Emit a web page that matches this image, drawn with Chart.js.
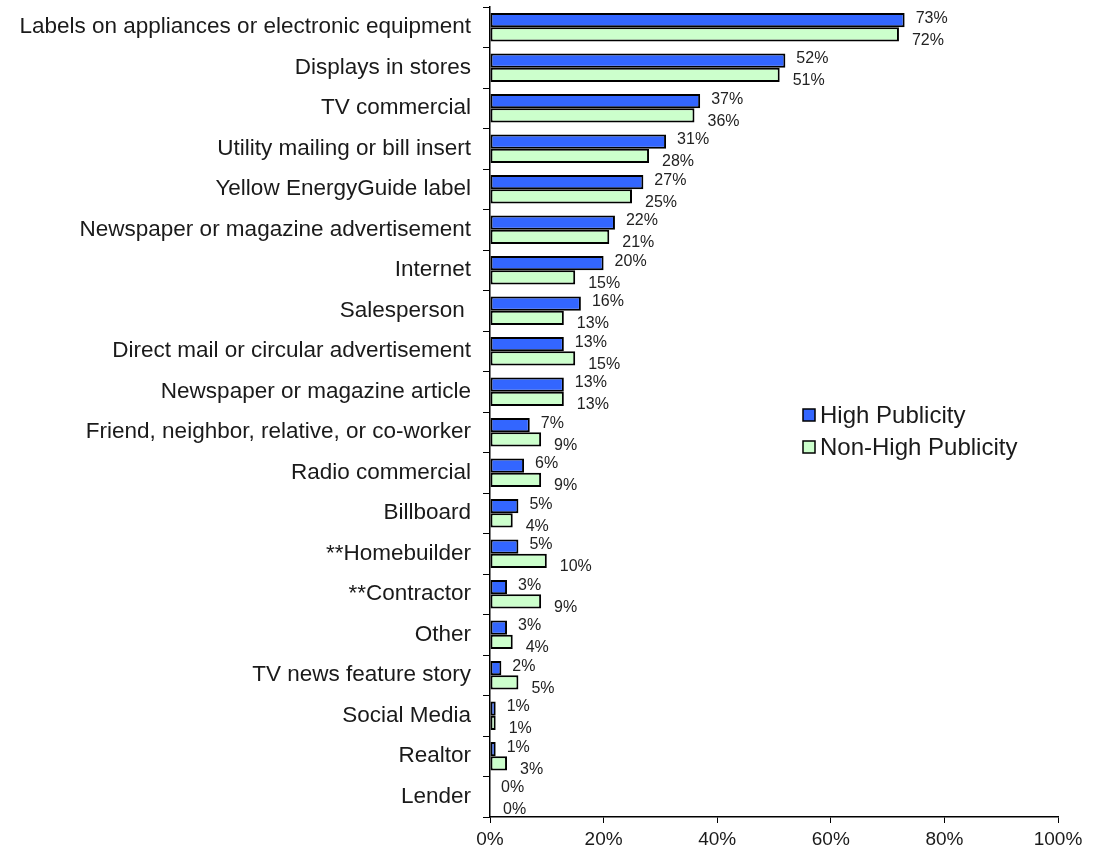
<!DOCTYPE html>
<html>
<head>
<meta charset="utf-8">
<script src="https://cdn.jsdelivr.net/npm/chart.js@4/dist/chart.umd.min.js"></script>
<style>
  html, body { margin: 0; padding: 0; background: #fff; }
  #wrap { width: 1095px; height: 854px; position: relative; }
</style>
</head>
<body>
<div id="wrap"><canvas id="c" width="1095" height="854"></canvas></div>
<script>
const categories = [
  "Labels on appliances or electronic equipment",
  "Displays in stores",
  "TV commercial",
  "Utility mailing or bill insert",
  "Yellow EnergyGuide label",
  "Newspaper or magazine advertisement",
  "Internet",
  "Salesperson ",
  "Direct mail or circular advertisement",
  "Newspaper or magazine article",
  "Friend, neighbor, relative, or co-worker",
  "Radio commercial",
  "Billboard",
  "**Homebuilder",
  "**Contractor",
  "Other",
  "TV news feature story",
  "Social Media",
  "Realtor",
  "Lender"
];
const highPublicity = [73, 52, 37, 31, 27, 22, 20, 16, 13, 13, 7, 6, 5, 5, 3, 3, 2, 1, 1, 0];
const nonHighPublicity = [72, 51, 36, 28, 25, 21, 15, 13, 15, 13, 9, 9, 4, 10, 9, 4, 5, 1, 3, 0];
const seriesNames = ["High Publicity", "Non-High Publicity"];
const xTicks = [0, 20, 40, 60, 80, 100];

const FONT = "'Liberation Sans', Arial, sans-serif";
const TEXT = "#1a1a1a";
const COLORS = ["#3366ff", "#ccffcc"];

// value labels next to each bar end
const valueLabels = {
  id: "valueLabels",
  afterDatasetsDraw(chart) {
    const ctx = chart.ctx;
    ctx.save();
    ctx.font = "16px " + FONT;
    ctx.fillStyle = "#222";
    ctx.textAlign = "left";
    ctx.textBaseline = "middle";
    chart.data.datasets.forEach((ds, di) => {
      const meta = chart.getDatasetMeta(di);
      meta.data.forEach((bar, i) => {
        const dy = di === 0 ? -2 : 6;
        const dx = di === 0 ? 11 : 13;
        ctx.fillText(ds.data[i] + "%", bar.x + dx, bar.y + dy);
      });
    });
    ctx.restore();
  }
};

// legend box inside the plot area
const insideLegend = {
  id: "insideLegend",
  afterDraw(chart) {
    const ctx = chart.ctx;
    const x0 = 803;
    const ys = [415, 447];
    ctx.save();
    ctx.font = "24px " + FONT;
    ctx.textAlign = "left";
    ctx.textBaseline = "middle";
    seriesNames.forEach((name, i) => {
      const y = ys[i];
      ctx.fillStyle = COLORS[i];
      ctx.fillRect(x0, y - 6, 12, 12);
      ctx.strokeStyle = "#000";
      ctx.lineWidth = 1.5;
      ctx.strokeRect(x0, y - 6, 12, 12);
      ctx.fillStyle = TEXT;
      ctx.fillText(name, x0 + 17, y + 1);
    });
    ctx.restore();
  }
};

new Chart(document.getElementById("c"), {
  type: "bar",
  data: {
    labels: categories,
    datasets: [
      {
        label: seriesNames[0],
        data: highPublicity,
        backgroundColor: COLORS[0],
        borderColor: "#000",
        borderWidth: c => (c.raw === 0 ? 0 : 2),
        borderSkipped: false,
        categoryPercentage: 0.7,
        barPercentage: 1.0
      },
      {
        label: seriesNames[1],
        data: nonHighPublicity,
        backgroundColor: COLORS[1],
        borderColor: "#000",
        borderWidth: c => (c.raw === 0 ? 0 : 2),
        borderSkipped: false,
        categoryPercentage: 0.7,
        barPercentage: 1.0
      }
    ]
  },
  options: {
    indexAxis: "y",
    responsive: false,
    animation: false,
    layout: { padding: { top: 7, right: 37, left: 0, bottom: 0 } },
    plugins: {
      legend: { display: false },
      tooltip: { enabled: false }
    },
    scales: {
      x: {
        min: 0,
        max: 100,
        afterBuildTicks: s => { s.ticks = xTicks.map(v => ({ value: v })); },
        afterFit: s => { s.height = 37; s.paddingLeft = 0; s.paddingRight = 0; },
        grid: {
          drawOnChartArea: false,
          drawTicks: true,
          tickLength: 6,
          color: "#000",
          tickColor: "#000"
        },
        border: { display: true, color: "#000", width: 1.5 },
        ticks: {
          padding: 5,
          color: TEXT,
          font: { family: FONT, size: 19 },
          callback: v => v + "%",
          maxRotation: 0
        }
      },
      y: {
        afterFit: s => { s.width = 490; s.paddingTop = 0; s.paddingBottom = 0; },
        grid: {
          offset: true,
          drawOnChartArea: false,
          drawTicks: true,
          tickLength: 7,
          color: "#000",
          tickColor: "#000"
        },
        border: { display: true, color: "#000", width: 1.5 },
        ticks: {
          padding: 12,
          color: TEXT,
          font: { family: FONT, size: 22.5 },
          autoSkip: false
        }
      }
    }
  },
  plugins: [valueLabels, insideLegend]
});
</script>
</body>
</html>
